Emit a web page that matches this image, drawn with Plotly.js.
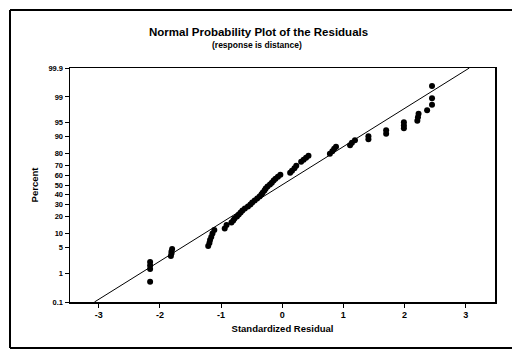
<!DOCTYPE html>
<html>
<head>
<meta charset="utf-8">
<script src="https://cdn.plot.ly/plotly-3.0.1.min.js"></script>
<style>
  html, body { margin: 0; padding: 0; background: #fff; }
  #chart { width: 512px; height: 351px; }
</style>
</head>
<body>
<div id="chart"></div>
<script>
// Standardized residuals (x) and their plotted percents (y)
const residuals = [
  -2.16, -2.16, -2.16, -2.16,
  -1.82, -1.81, -1.81, -1.80,
  -1.21, -1.19, -1.18, -1.16, -1.14, -1.11,
  -0.94, -0.91,
  -0.83, -0.80, -0.78, -0.74, -0.71, -0.68, -0.65, -0.61, -0.56, -0.52,
  -0.49, -0.45, -0.41, -0.37, -0.34, -0.32, -0.29, -0.27, -0.24, -0.20,
  -0.17, -0.14, -0.11, -0.07, -0.03,
  0.13, 0.16, 0.20, 0.23,
  0.31, 0.35, 0.39, 0.43,
  0.78, 0.82, 0.85, 0.88,
  1.11, 1.14, 1.19,
  1.41, 1.41,
  1.70, 1.70,
  1.99, 1.99, 1.99,
  2.21, 2.22, 2.23,
  2.37, 2.45, 2.45, 2.45
];
const percents = [
  0.53, 1.33, 1.68, 2.11,
  3.05, 3.53, 3.96, 4.56,
  5.37, 6.29, 7.33, 8.49, 10.0, 11.7,
  12.5, 14.5,
  16.1, 17.4, 18.8, 20.2, 21.7, 23.3, 25.0, 26.7, 28.4, 30.3,
  32.1, 34.0, 36.0, 38.0, 40.0, 42.0, 44.1, 46.2, 48.3, 50.4,
  52.5, 54.6, 56.6, 58.7, 60.7,
  62.7, 64.7, 67.1, 69.5,
  73.1, 74.8, 76.4, 78.0,
  79.5, 81.4, 83.1, 84.4,
  85.3, 86.8, 88.1,
  88.6, 90.1,
  91.2, 92.6,
  93.3, 94.2, 95.1,
  95.5, 96.3, 97.0,
  97.6, 98.3, 98.9, 99.55
];
// Fitted normal reference line (endpoints as read)
const fitResiduals = [-3.07, 3.06];
const fitPercents = [0.1, 99.9];
// Percent tick labels
const percentTicks = [0.1, 1, 5, 10, 20, 30, 40, 50, 60, 70, 80, 90, 95, 99, 99.9];
const percentTickText = ["0.1", "1", "5", "10", "20", "30", "40", "50", "60", "70", "80", "90", "95", "99", "99.9"];
const xTicks = [-3, -2, -1, 0, 1, 2, 3];

// Normal probability scale: inverse standard normal CDF (Acklam)
function normInv(p) {
  const a = [-3.969683028665376e+01, 2.209460984245205e+02, -2.759285104469687e+02, 1.383577518672690e+02, -3.066479806614716e+01, 2.506628277459239e+00];
  const b = [-5.447609879822406e+01, 1.615858368580409e+02, -1.556989798598866e+02, 6.680131188771972e+01, -1.328068155288572e+01];
  const c = [-7.784894002430293e-03, -3.223964580411365e-01, -2.400758277161838e+00, -2.549732539343734e+00, 4.374664141464968e+00, 2.938163982698783e+00];
  const d = [7.784695709041462e-03, 3.224671290700398e-01, 2.445134137142996e+00, 3.754408661907416e+00];
  const pl = 0.02425, ph = 1 - pl;
  let q, r;
  if (p < pl) {
    q = Math.sqrt(-2 * Math.log(p));
    return (((((c[0]*q+c[1])*q+c[2])*q+c[3])*q+c[4])*q+c[5]) / ((((d[0]*q+d[1])*q+d[2])*q+d[3])*q+1);
  } else if (p <= ph) {
    q = p - 0.5; r = q*q;
    return (((((a[0]*r+a[1])*r+a[2])*r+a[3])*r+a[4])*r+a[5])*q / (((((b[0]*r+b[1])*r+b[2])*r+b[3])*r+b[4])*r+1);
  } else {
    q = Math.sqrt(-2 * Math.log(1 - p));
    return -(((((c[0]*q+c[1])*q+c[2])*q+c[3])*q+c[4])*q+c[5]) / ((((d[0]*q+d[1])*q+d[2])*q+d[3])*q+1);
  }
}
const toZ = v => normInv(v / 100);

const fontFam = 'Liberation Sans, Arial, sans-serif';

const traces = [
  {
    x: fitResiduals, y: fitPercents.map(toZ),
    mode: 'lines', type: 'scatter',
    line: { color: '#000', width: 1 },
    hoverinfo: 'skip', showlegend: false
  },
  {
    x: residuals, y: percents.map(toZ),
    mode: 'markers', type: 'scatter',
    marker: { color: '#000', size: 6, symbol: 'circle' },
    text: percents.map(v => v + '%'),
    showlegend: false
  }
];

// page frame (left, top, bottom edges), in paper coords
const L = 70, R = 17, T = 68, B = 49, W = 512, H = 351;
const pw = W - L - R, ph = H - T - B;
const px = v => (v - L) / pw;
const py = v => (H - B - v) / ph;

const layout = {
  width: W, height: H,
  margin: { l: L, r: R, t: T, b: B, pad: 0 },
  paper_bgcolor: '#fff', plot_bgcolor: '#fff',
  font: { family: fontFam, color: '#000' },
  title: {
    text: '<b>Normal Probability Plot of the Residuals</b>',
    font: { size: 11.5, family: fontFam, color: '#000' },
    x: 0.505, xanchor: 'center', xref: 'container',
    y: 1 - 28 / H, yanchor: 'top', yref: 'container'
  },
  annotations: [
    {
      text: '<b>(response is distance)</b>',
      xref: 'paper', yref: 'paper', x: px(257), y: py(45),
      xanchor: 'center', yanchor: 'middle', showarrow: false,
      font: { size: 8.5, family: fontFam, color: '#000' }
    }
  ],
  xaxis: {
    range: [-3.47, 3.48],
    tickvals: xTicks, ticktext: xTicks.map(String),
    ticks: 'outside', ticklen: 4, tickwidth: 1, tickcolor: '#000',
    showline: true, linecolor: '#000', linewidth: 1.5, mirror: true,
    showgrid: false, zeroline: false,
    tickfont: { size: 9, family: fontFam, weight: 'bold' },
    title: { text: '<b>Standardized Residual</b>', font: { size: 9.5, family: fontFam }, standoff: 6 }
  },
  yaxis: {
    range: [toZ(0.1), toZ(99.9)],
    tickvals: percentTicks.map(toZ), ticktext: percentTickText,
    ticks: 'outside', ticklen: 4, tickwidth: 1, tickcolor: '#000',
    showline: true, linecolor: '#000', linewidth: 1.5, mirror: true,
    showgrid: false, zeroline: false,
    tickfont: { size: 7.5, family: fontFam, weight: 'bold' },
    title: { text: '<b>Percent</b>', font: { size: 9.5, family: fontFam }, standoff: 8 }
  },
  shapes: [
    { type: 'line', xref: 'paper', yref: 'paper', x0: px(10), x1: px(10), y0: py(10), y1: py(348), line: { color: '#000', width: 2 } },
    { type: 'line', xref: 'paper', yref: 'paper', x0: px(10), x1: px(515), y0: py(10), y1: py(10), line: { color: '#000', width: 2 } },
    { type: 'line', xref: 'paper', yref: 'paper', x0: px(10), x1: px(515), y0: py(348), y1: py(348), line: { color: '#000', width: 2 } }
  ]
};

Plotly.newPlot('chart', traces, layout, { displayModeBar: false, responsive: false, staticPlot: true });
</script>
</body>
</html>
